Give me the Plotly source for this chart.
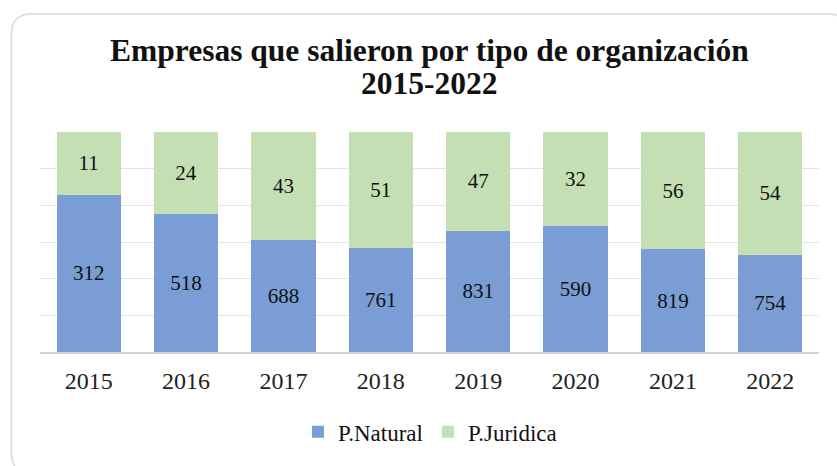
import plotly.graph_objects as go

years = ["2015", "2016", "2017", "2018", "2019", "2020", "2021", "2022"]
natural_labels = [312, 518, 688, 761, 831, 590, 819, 754]
juridica_labels = [11, 24, 43, 51, 47, 32, 56, 54]
# bar shares as drawn in the picture (100% stacked)
natural_share = [0.714, 0.629, 0.507, 0.475, 0.552, 0.572, 0.467, 0.441]
juridica_share = [0.286, 0.371, 0.493, 0.525, 0.448, 0.428, 0.533, 0.559]
title_lines = ["Empresas que salieron por tipo de organización", "2015-2022"]

W, H = 837, 466
L, R, T, B = 40, 18, 132, 111
pw, ph = W - L - R, H - T - B

FONT = "Liberation Serif, Times New Roman, serif"

def px2paper(x, y):
    return (x - L) / pw, (H - B - y) / ph

fig = go.Figure()
fig.add_trace(go.Bar(
    x=years, y=natural_share, name="P.Natural",
    marker=dict(color="#7a9dd5", line=dict(width=0)),
    customdata=natural_labels, texttemplate="%{customdata}",
    textposition="inside", insidetextanchor="middle", textangle=0,
    textfont=dict(family=FONT, size=21, color="#111111"),
    hoverinfo="skip",
))
fig.add_trace(go.Bar(
    x=years, y=juridica_share, name="P.Juridica",
    marker=dict(color="#c4dfb3", line=dict(width=0)),
    customdata=juridica_labels, texttemplate="%{customdata}",
    textposition="inside", insidetextanchor="middle", textangle=0,
    textfont=dict(family=FONT, size=21, color="#111111"),
    hoverinfo="skip",
))

# rounded border
x0, y0, x1, y1, r = 11.5, 12.5, 848, 478, 20
def P(x, y):
    a, b = px2paper(x, y)
    return f"{a:.5f},{b:.5f}"
path = (f"M {P(x0+r, y0)} L {P(x1-r, y0)} Q {P(x1, y0)} {P(x1, y0+r)} "
        f"L {P(x1, y1-r)} Q {P(x1, y1)} {P(x1-r, y1)} L {P(x0+r, y1)} "
        f"Q {P(x0, y1)} {P(x0, y1-r)} L {P(x0, y0+r)} Q {P(x0, y0)} {P(x0+r, y0)} Z")

annotations = []
for line, ypx in zip(title_lines, [49, 83]):
    ax, ay = px2paper(429, ypx)
    annotations.append(dict(
        text=f"<b>{line}</b>", x=ax, y=ay, xref="paper", yref="paper",
        xanchor="center", yanchor="middle", showarrow=False,
        font=dict(family=FONT, size=31.5, color="#111111"),
    ))

lx, ly = px2paper(430, 436)
fig.update_layout(
    width=W, height=H,
    margin=dict(l=L, r=R, t=T, b=B),
    barmode="stack", bargap=0.34,
    plot_bgcolor="white", paper_bgcolor="white",
    font=dict(family=FONT, size=20, color="#222222"),
    showlegend=True,
    legend=dict(
        orientation="h", x=lx, xanchor="center",
        y=ly, yanchor="middle",
        font=dict(family=FONT, size=23, color="#111111"),
        itemwidth=30, traceorder="normal",
    ),
    annotations=annotations,
    shapes=[dict(type="path", path=path, xref="paper", yref="paper",
                 line=dict(color="#d9d9d9", width=1.5), layer="below")],
    uniformtext=dict(mode="show", minsize=21),
)
fig.update_xaxes(
    showgrid=False, showline=True, linecolor="#d0d0d0", linewidth=1.5,
    ticks="outside", ticklen=6, tickcolor="rgba(0,0,0,0)",
    tickfont=dict(family=FONT, size=24, color="#222222"),
)
fig.update_yaxes(
    range=[0, 1], tickvals=[i / 6 for i in range(7)], showticklabels=False,
    showgrid=True, gridcolor="#e3e3e3", gridwidth=1, zeroline=False,
    showline=False,
)

fig.write_html("out.html", post_script="document.body.style.margin='0';",
               config={"displayModeBar": False})
